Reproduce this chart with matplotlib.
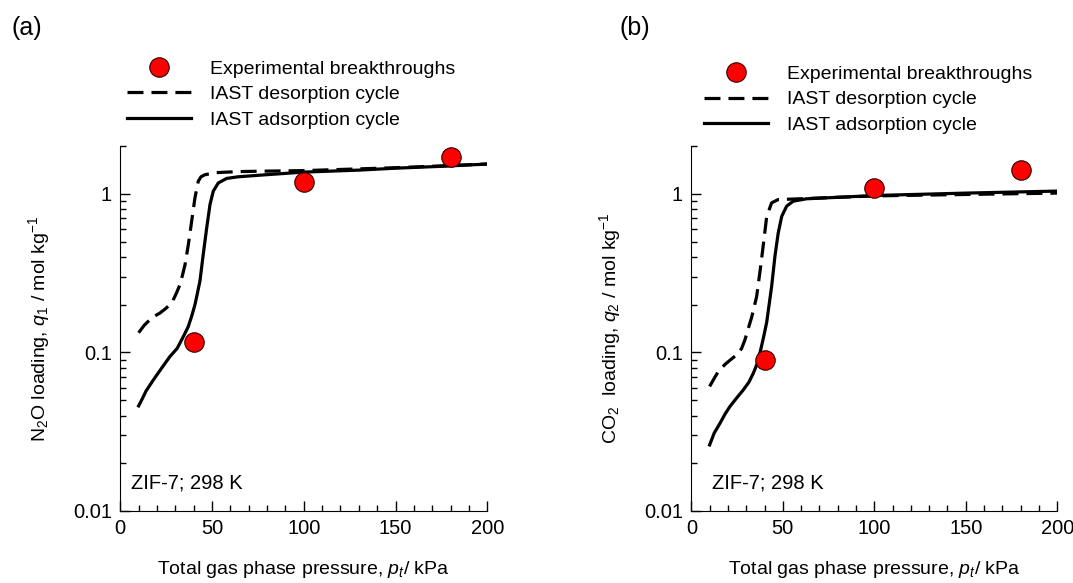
import numpy as np
import matplotlib
matplotlib.use("Agg")
import matplotlib.pyplot as plt
from matplotlib.ticker import LogLocator, FixedLocator, FixedFormatter, MultipleLocator, NullFormatter

plt.rcParams['font.family'] = ['Liberation Sans', 'DejaVu Sans']
plt.rcParams['mathtext.fontset'] = 'custom'
plt.rcParams['mathtext.rm'] = 'Liberation Sans'
plt.rcParams['mathtext.it'] = 'Liberation Sans:italic'

# (a) N2O, ZIF-7, 298 K
p_ads_a = [10, 12, 14, 18, 22, 27, 31, 34.4, 37, 38.9, 40.7, 42, 43.4, 45.2, 47.1, 48.9, 50.7, 53.4, 58, 64.3, 80, 100, 130, 150, 175, 200]
q_ads_a = [0.046, 0.051, 0.057, 0.067, 0.078, 0.094, 0.106, 0.126, 0.145, 0.169, 0.200, 0.235, 0.281, 0.414, 0.61, 0.856, 1.04, 1.17, 1.25, 1.28, 1.32, 1.37, 1.41, 1.45, 1.49, 1.54]
p_des_a = [10, 13, 16.2, 19, 21.6, 24.5, 27.1, 28.5, 30.5, 32.5, 34, 35.3, 37.1, 38.9, 40.7, 42.5, 44, 46.2, 52.5, 64.3, 80, 100, 150, 200]
q_des_a = [0.133, 0.148, 0.161, 0.170, 0.177, 0.188, 0.200, 0.210, 0.235, 0.267, 0.31, 0.358, 0.479, 0.671, 0.944, 1.20, 1.28, 1.32, 1.36, 1.38, 1.39, 1.40, 1.46, 1.54]
p_exp_a = [40, 100, 180]
q_exp_a = [0.117, 1.18, 1.71]

# (b) CO2, ZIF-7, 298 K
p_ads_b = [10, 12.5, 15.7, 18.5, 21.1, 25, 28.4, 31.5, 33.9, 36, 37.5, 39.5, 41.2, 43.9, 45.7, 47.5, 49.4, 52.1, 55.7, 63, 80, 101, 150, 200]
q_ads_b = [0.0261, 0.031, 0.0358, 0.041, 0.0456, 0.052, 0.058, 0.065, 0.074, 0.085, 0.099, 0.125, 0.155, 0.261, 0.404, 0.567, 0.72, 0.836, 0.898, 0.93, 0.95, 0.976, 1.01, 1.04]
p_des_b = [10, 12, 14.5, 18.4, 22, 25.5, 27.5, 29.3, 31, 33, 35.7, 37.9, 39.7, 41.2, 43.9, 47.5, 53.9, 80, 101, 150, 200]
q_des_b = [0.061, 0.067, 0.075, 0.084, 0.091, 0.098, 0.106, 0.12, 0.14, 0.167, 0.225, 0.349, 0.515, 0.72, 0.877, 0.92, 0.925, 0.95, 0.97, 0.99, 1.01]
p_exp_b = [40, 100, 180]
q_exp_b = [0.089, 1.09, 1.41]

fig = plt.figure(figsize=(10.73, 5.83), dpi=100)
ax1 = fig.add_axes([0.1121, 0.1235, 0.342, 0.626])
ax2 = fig.add_axes([0.6443, 0.1235, 0.341, 0.626])

panels = [
    (ax1, p_ads_a, q_ads_a, p_des_a, q_des_a, p_exp_a, q_exp_a,
     "N$_2$O loading, $q_1$ / mol kg$^{-1}$", "(a)", 0.011, 0.028, (0.018, 1.236)),
    (ax2, p_ads_b, q_ads_b, p_des_b, q_des_b, p_exp_b, q_exp_b,
     "CO$_2$  loading, $q_2$ / mol kg$^{-1}$", "(b)", 0.577, 0.056, (0.035, 1.222)),
]

for ax, pa, qa, pd, qd, pe, qe, ylab, tag, tagx, zx, legpos in panels:
    h_exp, = ax.plot(pe, qe, 'o', ms=14, mfc='#ff0000', mec='#300000', mew=0.8,
                     linestyle='none', zorder=5, label="Experimental breakthroughs")
    h_des, = ax.plot(pd, qd, color='black', lw=2.3, dashes=(5, 2.5),
                     label="IAST desorption cycle")
    h_ads, = ax.plot(pa, qa, color='black', lw=2.3, label="IAST adsorption cycle")

    ax.set_yscale('log')
    ax.set_xlim(0, 200)
    ax.set_ylim(0.01, 2)
    ax.spines['top'].set_visible(False)
    ax.spines['right'].set_visible(False)
    ax.xaxis.set_major_locator(MultipleLocator(50))
    ax.xaxis.set_minor_locator(MultipleLocator(10))
    ax.yaxis.set_major_locator(FixedLocator([0.01, 0.1, 1]))
    ax.yaxis.set_major_formatter(FixedFormatter(['0.01', '0.1', '1']))
    ax.yaxis.set_minor_locator(LogLocator(base=10, subs=np.arange(2, 10)))
    ax.yaxis.set_minor_formatter(NullFormatter())
    ax.tick_params(which='major', direction='in', length=7, width=1, labelsize=14.5, pad=6)
    ax.tick_params(which='minor', direction='in', length=4.5, width=1)
    ax.set_xlabel("Total gas phase pressure, $p_t$/ kPa", fontsize=14, labelpad=15)
    ax.set_ylabel(ylab, fontsize=14, labelpad=15)
    ax.text(zx, 0.077, "ZIF-7; 298 K", transform=ax.transAxes, fontsize=14.5, va='center')
    fig.text(tagx, 0.952, tag, fontsize=18, va='center')

    ax.legend(handles=[h_exp, h_des, h_ads], loc='upper left', bbox_to_anchor=legpos,
              frameon=False, fontsize=14, handlelength=3.3, handletextpad=0.95,
              borderaxespad=0, borderpad=0, labelspacing=0.42, numpoints=1)

fig.savefig("out.png", dpi=100)
